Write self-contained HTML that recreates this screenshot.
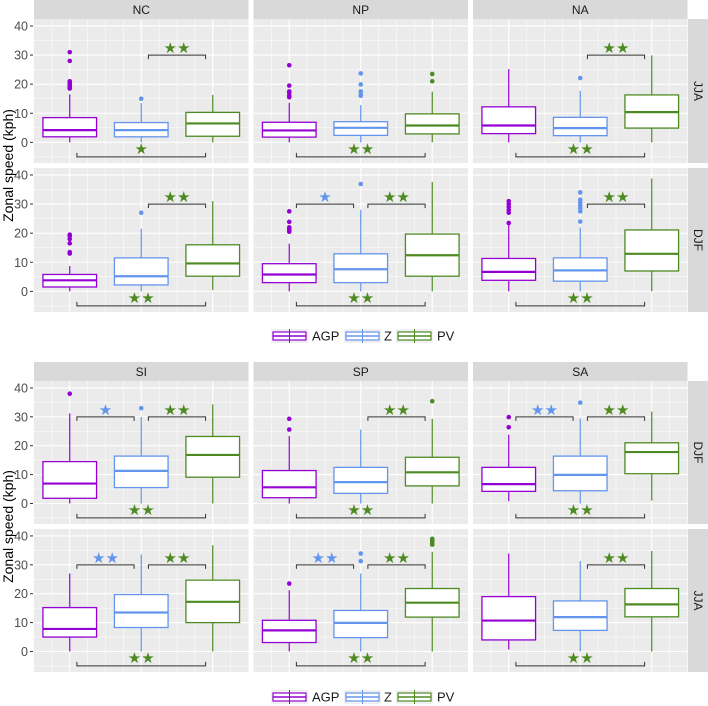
<!DOCTYPE html>
<html><head><meta charset="utf-8"><style>
html,body{margin:0;padding:0;background:#fff;}
svg{display:block;font-family:"Liberation Sans",Arial,sans-serif;}
</style></head><body>
<svg id="chart" width="708" height="706" viewBox="0 0 708 706" xmlns="http://www.w3.org/2000/svg"></svg>
<script>
const categories = ['AGP','Z','PV'];
const colors = ['#9400D3','#6495ED','#4E8A22'];
const regionsTop = ['NC','NP','NA'];
const regionsBottom = ['SI','SP','SA'];
const seasonsTop = ['JJA','DJF'];
const seasonsBottom = ['DJF','JJA'];
const yTicks = [0,10,20,30,40];

// box stats: [low whisker, q1, median, q3, high whisker]
const NC_JJA = [[0,1.9,4.2,8.5,16.5],[0,1.9,4.2,6.8,13.5],[0,2.1,6.5,10.3,16.3]];
const NC_JJA_out = [[31,28,21,20.5,20,19.5,19,18.5],[15],[]];
const NC_DJF = [[0,1.5,3.8,5.8,8.7],[0,2.2,5.2,11.5,21.5],[0.5,5.2,9.6,16,31]];
const NC_DJF_out = [[19.5,19,18,16.5,13.5,13],[27],[]];
const NP_JJA = [[0,1.8,4.1,6.9,13.6],[0,2.4,5,7.1,12.8],[0,2.9,5.8,9.8,17.4]];
const NP_JJA_out = [[26.5,19.5,17.5,17,16,15.5],[23.7,19.9,17.5,16.5,16],[23.5,21]];
const NP_DJF = [[0,3,5.8,9.5,16.4],[0,3,7.6,12.9,28],[0,5.2,12.4,19.7,37.6]];
const NP_DJF_out = [[27.5,23.9,22,21.5,21,20.5],[36.9],[]];
const NA_JJA = [[0,3,5.8,12.2,25.2],[0,2.3,4.9,8.6,17.7],[0,4.9,10.4,16.3,29.9]];
const NA_JJA_out = [[],[22.1],[]];
const NA_DJF = [[0,3.8,6.7,11.3,23],[0,3.5,7.2,11.5,21.9],[0,7,12.9,21.1,38.8]];
const NA_DJF_out = [[31,30,29,28,27,23.5],[34,31.5,30.5,29.5,28.5,27.5,24],[]];
const SI_DJF = [[0,1.8,6.9,14.5,31.2],[0,5.5,11.3,16.4,29.9],[0,9.1,16.8,23.2,34.3]];
const SI_DJF_out = [[38],[33],[]];
const SI_JJA = [[0,5,7.8,15.2,27],[0,8.3,13.5,19.7,33.6],[0,10,17.2,24.7,36.8]];
const SI_JJA_out = [[],[],[]];
const SP_DJF = [[0,2,5.6,11.4,23.4],[0,3.5,7.4,12.5,25.6],[0,6.1,10.8,16,29.3]];
const SP_DJF_out = [[29.3,25.6],[],[35.4]];
const SP_JJA = [[0,3.1,7.3,10.8,21.2],[0,4.8,9.9,14.2,27],[0,11.9,16.9,21.8,34.5]];
const SP_JJA_out = [[23.5],[33.9,31.3],[39,38.5,38,37.5,37]];
const SA_DJF = [[0.8,4.2,6.7,12.5,23.8],[0,4.4,9.9,16.4,29.4],[1,10.3,17.8,21,31.8]];
const SA_DJF_out = [[29.9,26.4],[34.9],[]];
const SA_JJA = [[0.7,4,10.7,19,33.9],[0,7.3,11.9,17.5,31.3],[0,12,16.3,21.8,34.8]];
const SA_JJA_out = [[],[],[]];

// significance: [AGP-Z, Z-PV, AGP-PV]
const NC_JJA_sig = ['','**','*'];
const NC_DJF_sig = ['','**','**'];
const NP_JJA_sig = ['','','**'];
const NP_DJF_sig = ['*','**','**'];
const NA_JJA_sig = ['','**','**'];
const NA_DJF_sig = ['','**','**'];
const SI_DJF_sig = ['*','**','**'];
const SI_JJA_sig = ['**','**','**'];
const SP_DJF_sig = ['','**','**'];
const SP_JJA_sig = ['**','**','**'];
const SA_DJF_sig = ['**','**','**'];
const SA_JJA_sig = ['','**','**'];

const NS='http://www.w3.org/2000/svg';
const svg=document.getElementById('chart');
function el(tag,attrs,parent){const e=document.createElementNS(NS,tag);for(const k in attrs)e.setAttribute(k,attrs[k]);(parent||svg).appendChild(e);return e;}

const panelX=[34,253.5,473], panelW=214.5;
const Y0=-7.1, Y1=42.4;

const panelsTop = [[[NC_JJA,NC_JJA_out,NC_JJA_sig],[NP_JJA,NP_JJA_out,NP_JJA_sig],[NA_JJA,NA_JJA_out,NA_JJA_sig]],
                   [[NC_DJF,NC_DJF_out,NC_DJF_sig],[NP_DJF,NP_DJF_out,NP_DJF_sig],[NA_DJF,NA_DJF_out,NA_DJF_sig]]];
const panelsBottom = [[[SI_DJF,SI_DJF_out,SI_DJF_sig],[SP_DJF,SP_DJF_out,SP_DJF_sig],[SA_DJF,SA_DJF_out,SA_DJF_sig]],
                      [[SI_JJA,SI_JJA_out,SI_JJA_sig],[SP_JJA,SP_JJA_out,SP_JJA_sig],[SA_JJA,SA_JJA_out,SA_JJA_sig]]];

function drawFigure(stripTop, rowsY, regions, seasons, panels, legendY){
  regions.forEach((r,i)=>{
    const s=el('rect',{x:panelX[i],y:stripTop,width:panelW,height:rowsY[0][0]-stripTop,fill:'#D9D9D9'});
    
    
    const t=el('text',{x:panelX[i]+panelW/2,y:stripTop+14,'text-anchor':'middle','font-size':12,fill:'#1A1A1A'});
    t.textContent=r;
    
    
  });
  rowsY.forEach((ry,ri)=>{
    const [top,bot]=ry;
    const ys=v=>bot-(v-Y0)/(Y1-Y0)*(bot-top);
    const rs=el('rect',{x:688,y:top,width:20,height:bot-top,fill:'#D9D9D9'});
    
    
    const cy=(top+bot)/2;
    const rt=el('text',{x:694,y:cy,'text-anchor':'middle','font-size':12,fill:'#1A1A1A',transform:`rotate(90 694 ${cy})`});
    rt.textContent=seasons[ri];
    
    
    yTicks.forEach(v=>{
      const tl=el('text',{x:28,y:ys(v)+4.5,'text-anchor':'end','font-size':12.5,fill:'#4D4D4D'});
      tl.textContent=v;
      
      
      el('line',{x1:30,x2:33,y1:ys(v),y2:ys(v),stroke:'#333','stroke-width':1});
    });
    regions.forEach((r,pi)=>{
      const px=panelX[pi];
      const xs=x=>px+(x-0.5)/3*panelW;
      const g=el('g',{});
      
      
      el('rect',{x:px,y:top,width:panelW,height:bot-top,fill:'#EBEBEB'},g);
      for(let v=-5;v<=40;v+=5){const major=v%10===0;el('line',{x1:px,x2:px+panelW,y1:ys(v),y2:ys(v),stroke:'#fff','stroke-width':major?1.1:0.5},g);}
      for(let x=0.75;x<=3.3;x+=0.25){const major=Math.abs(x-Math.round(x))<1e-6;el('line',{x1:xs(x),x2:xs(x),y1:top,y2:bot,stroke:'#fff','stroke-width':major?1.1:0.5},g);}
      const [stats,outs,sig]=panels[ri][pi];
      stats.forEach((st,ci)=>{
        const c=colors[ci], x=ci+1, hw=0.375;
        const bg=el('g',{},g);
        
        
        el('line',{x1:xs(x),x2:xs(x),y1:ys(st[0]),y2:ys(st[1]),stroke:c,'stroke-width':1.2},bg);
        el('line',{x1:xs(x),x2:xs(x),y1:ys(st[3]),y2:ys(st[4]),stroke:c,'stroke-width':1.2},bg);
        el('rect',{x:xs(x-hw),y:ys(st[3]),width:xs(x+hw)-xs(x-hw),height:ys(st[1])-ys(st[3]),fill:'#fff',stroke:c,'stroke-width':1.3},bg);
        el('line',{x1:xs(x-hw),x2:xs(x+hw),y1:ys(st[2]),y2:ys(st[2]),stroke:c,'stroke-width':2.2},bg);
        outs[ci].forEach(o=>{
          const d=el('circle',{cx:xs(x),cy:ys(o),r:2.3,fill:c},bg);
          
          
        });
      });
      const brk=[[1.1,1.9,30,true,colors[1]],[2.1,2.9,30,true,colors[2]],[1.1,2.9,-5,false,colors[2]]];
      brk.forEach((b,bi)=>{
        if(!sig[bi])return;
        const [a,e,v,down,sc]=b;
        const yy=ys(v), tk=down?4:-4;
        const p=el('path',{d:`M${xs(a)},${yy+tk}V${yy}H${xs(e)}V${yy+tk}`,fill:'none',stroke:'#333','stroke-width':1},g);
        
        
        const st=el('text',{x:(xs(a)+xs(e))/2,y:down?yy-2:yy-3,'text-anchor':'middle','font-size':15,fill:sc,'font-family':'DejaVu Sans, sans-serif'},g);
        st.textContent=sig[bi].replace(/\*/g,'★');
        
        
      });
    });
  });
  const mid=(rowsY[0][0]+rowsY[1][1])/2;
  const yt=el('text',{x:13,y:mid,'text-anchor':'middle','font-size':14,fill:'#000',transform:`rotate(-90 13 ${mid})`});
  yt.textContent='Zonal speed (kph)';
  
  
  const lg=el('g',{});
  
  
  const keyX=[272,345,397], txtX=[312,384,437];
  categories.forEach((c,i)=>{
    const k=el('g',{},lg);
    
    
    el('rect',{x:keyX[i]-1,y:legendY-7,width:37,height:14,fill:'#F0F0F0'},k);
    el('rect',{x:keyX[i]+1,y:legendY-4,width:33,height:8,fill:'#fff',stroke:colors[i],'stroke-width':1.2},k);
    el('line',{x1:keyX[i]+1,x2:keyX[i]+34,y1:legendY,y2:legendY,stroke:colors[i],'stroke-width':1.5},k);
    el('line',{x1:keyX[i]+17.5,x2:keyX[i]+17.5,y1:legendY-7,y2:legendY+7,stroke:colors[i],'stroke-width':1},k);
    const t=el('text',{x:txtX[i],y:legendY+4.5,'font-size':13,fill:'#1A1A1A'},k);
    t.textContent=c;
  });
}
drawFigure(0,[[19,163],[168,312]],regionsTop,seasonsTop,panelsTop,336);
drawFigure(362,[[381,524],[529,672]],regionsBottom,seasonsBottom,panelsBottom,697);
</script>
</body></html>
